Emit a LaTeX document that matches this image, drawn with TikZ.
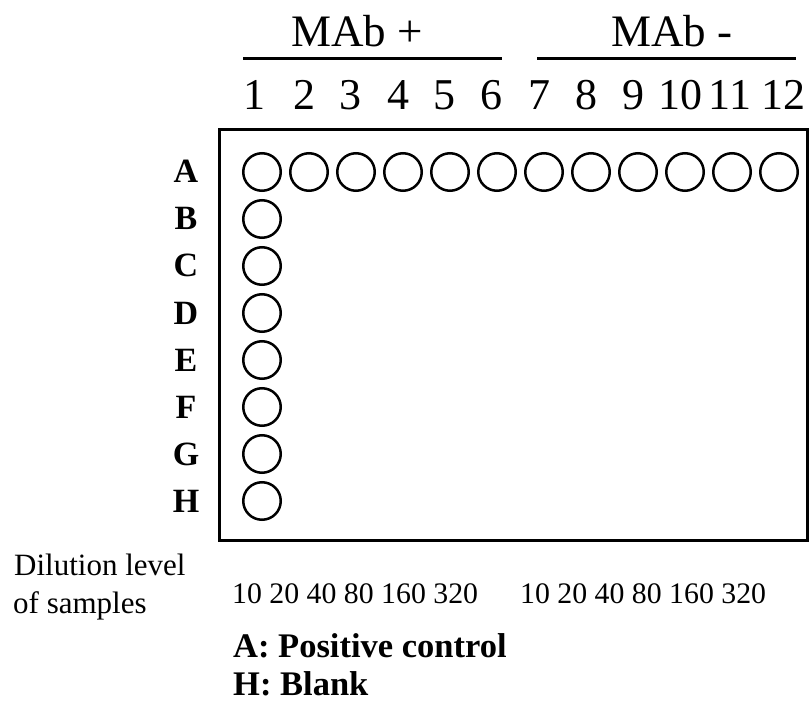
\documentclass[tikz,border=0pt]{standalone}
\usepackage{fontspec}
\setmainfont{Liberation Serif}
\begin{document}
\begin{tikzpicture}[x=1pt,y=-1pt,
  well/.style={circle, draw, line width=2.5pt, minimum size=37.5pt, inner sep=0pt},
  head/.style={anchor=base, inner sep=0pt, font=\fontsize{45}{50}\selectfont},
  colnum/.style={anchor=base, inner sep=0pt, font=\fontsize{44}{48}\selectfont},
  rowlab/.style={anchor=base, inner sep=0pt, font=\fontsize{34}{38}\selectfont\bfseries},
  dil/.style={anchor=base west, inner sep=0pt, font=\fontsize{31}{34}\selectfont},
  dilnum/.style={anchor=base west, inner sep=0pt, font=\fontsize{29.8}{32}\selectfont},
  legend/.style={anchor=base west, inner sep=0pt, font=\fontsize{34.5}{36}\selectfont\bfseries},
  rule/.style={line width=3pt},
  plate/.style={line width=3pt}]
\useasboundingbox (0,0) rectangle (811,703);

% headers
\node[head] (mabp) at (357,47) {MAb +};
\node[head] (mabm) at (672,47) {MAb -};
\coordinate (lp1) at (243,59); \coordinate (lp2) at (502,59);
\coordinate (lm1) at (537,59); \coordinate (lm2) at (796,59);
\draw[rule] (lp1) -- (lp2);
\draw[rule] (lm1) -- (lm2);

% column numbers
\foreach \n/\x in {1/254,2/304,3/350,4/398,5/444,6/491,7/539,8/586,9/633,10/680,11/730,12/783}
  \node[colnum] (c\n) at (\x,110) {\n};

% plate
\coordinate (pl1) at (219,130); \coordinate (pl2) at (807,540);
\draw[plate] (pl1) rectangle (pl2);

% row labels and wells
\foreach \r [count=\i from 0] in {A,B,C,D,E,F,G,H}{
  \node[rowlab] (r\r) at (186,183+47*\i) {\r};
  \node[well] (w\r1) at (262,172+47*\i) {};
}
\foreach \j in {2,...,12}
  \node[well] (wA\j) at (262+47*\j-47,172) {};

% dilution
\node[dil] (dil1) at (14,575) {Dilution level};
\node[dil] (dil2) at (13,613) {of samples};
\node[dilnum] (dn1) at (232,603) {10 20 40 80 160 320};
\node[dilnum] (dn2) at (520,603) {10 20 40 80 160 320};

% legend
\node[legend] (lg1) at (233,657) {A: Positive control};
\node[legend] (lg2) at (233,695) {H: Blank};
\end{tikzpicture}
\end{document}
